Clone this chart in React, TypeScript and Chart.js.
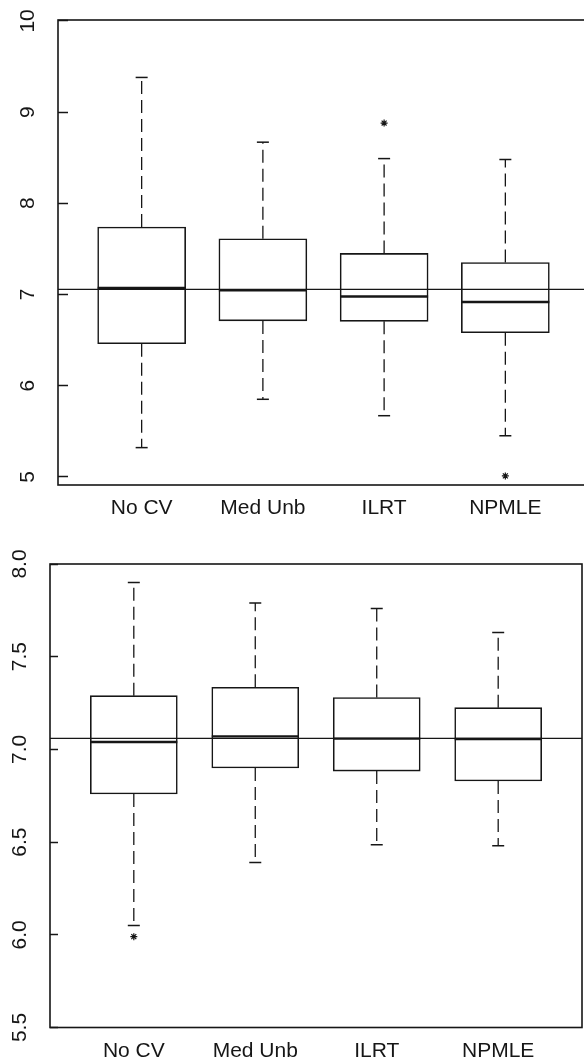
import React, { useEffect, useRef } from "react";
import { Chart, registerables } from "chart.js";

Chart.register(...registerables);

// ---------- data ----------
const categories = ["No CV", "Med Unb", "ILRT", "NPMLE"];

// upper panel
const topUpperWhisker = [9.38, 8.67, 8.49, 8.48];
const topQ3 = [7.74, 7.61, 7.45, 7.35];
const topMedian = [7.07, 7.045, 6.977, 6.917];
const topQ1 = [6.46, 6.71, 6.705, 6.58];
const topLowerWhisker = [5.32, 5.85, 5.67, 5.45];
const topOutlierCats = [3, 4];
const topOutlierValues = [8.88, 5.01];
const topReference = 7.055;
const topYTicks = [5, 6, 7, 8, 9, 10];
const topYLabels = ["5", "6", "7", "8", "9", "10"];

// lower panel
const bottomUpperWhisker = [7.9, 7.79, 7.76, 7.63];
const bottomQ3 = [7.29, 7.335, 7.28, 7.225];
const bottomMedian = [7.04, 7.07, 7.058, 7.056];
const bottomQ1 = [6.76, 6.9, 6.883, 6.83];
const bottomLowerWhisker = [6.05, 6.39, 6.486, 6.48];
const bottomOutlierCats = [1];
const bottomOutlierValues = [5.99];
const bottomReference = 7.06;
const bottomYTicks = [5.5, 6.0, 6.5, 7.0, 7.5, 8.0];
const bottomYLabels = ["5.5", "6.0", "6.5", "7.0", "7.5", "8.0"];

const INK = "#161616";
const FONT = { family: "'Liberation Sans', Arial, Helvetica, sans-serif", size: 21 };

type PanelData = {
  upper: number[];
  q3: number[];
  median: number[];
  q1: number[];
  lower: number[];
  outCats: number[];
  outValues: number[];
  reference: number;
  yTicks: number[];
  yLabels: string[];
};

type PanelLayout = {
  canvasW: number;
  canvasH: number;
  top: number;
  yAxisWidth: number;
  padTop: number;
  padRight: number;
  xAxisHeight: number;
  xMin: number;
  xMax: number;
  yMin: number;
  yMax: number;
  boxWidth: number;
  tickLen: number;
  yLabelPad: number;
  xLabelPad: number;
};

const framePlugin = {
  id: "frame",
  afterDraw(chart: any) {
    const { ctx, chartArea } = chart;
    ctx.save();
    ctx.strokeStyle = INK;
    ctx.lineWidth = 1.6;
    ctx.strokeRect(
      chartArea.left,
      chartArea.top,
      chartArea.right - chartArea.left,
      chartArea.bottom - chartArea.top
    );
    ctx.restore();
  },
};

function Panel({ data, layout }: { data: PanelData; layout: PanelLayout }) {
  const ref = useRef<HTMLCanvasElement | null>(null);

  useEffect(() => {
    if (!ref.current) return;
    const idx = categories.map((_, i) => i + 1);

    const whiskerPts: any[] = [];
    idx.forEach((x, i) => {
      whiskerPts.push({ x, y: data.q3[i] }, { x, y: data.upper[i] }, { x, y: null });
      whiskerPts.push({ x, y: data.q1[i] }, { x, y: data.lower[i] }, { x, y: null });
    });
    const capPts: any[] = [];
    idx.forEach((x, i) => {
      capPts.push({ x, y: data.upper[i] }, { x, y: data.lower[i] });
    });

    const chart = new Chart(ref.current, {
      type: "bar",
      data: {
        datasets: [
          {
            type: "line",
            data: [
              { x: layout.xMin, y: data.reference },
              { x: layout.xMax, y: data.reference },
            ],
            borderColor: INK,
            backgroundColor: INK,
            borderWidth: 1.3,
            pointRadius: 0,
            fill: false,
            order: 0,
          } as any,
          {
            type: "scatter",
            data: idx.map((x, i) => ({ x, y: data.median[i] })),
            pointStyle: "line",
            pointRadius: layout.boxWidth / 2,
            pointBorderWidth: 2.4,
            pointBorderColor: INK,
            pointBackgroundColor: INK,
            borderColor: INK,
            backgroundColor: INK,
            order: 1,
          } as any,
          {
            type: "scatter",
            data: data.outCats.map((c, i) => ({ x: c, y: data.outValues[i] })),
            pointStyle: "star",
            pointRadius: 3.5,
            pointBorderWidth: 1.2,
            pointBorderColor: INK,
            pointBackgroundColor: INK,
            borderColor: INK,
            backgroundColor: INK,
            order: 1,
          } as any,
          {
            type: "scatter",
            data: capPts,
            pointStyle: "line",
            pointRadius: 6,
            pointBorderWidth: 1.5,
            pointBorderColor: INK,
            pointBackgroundColor: INK,
            borderColor: INK,
            backgroundColor: INK,
            order: 2,
          } as any,
          {
            type: "bar",
            data: idx.map((x, i) => ({ x, y: [data.q1[i], data.q3[i]] })),
            backgroundColor: "#ffffff",
            borderColor: INK,
            borderWidth: 1.6,
            borderSkipped: false,
            barThickness: layout.boxWidth,
            order: 3,
          } as any,
          {
            type: "line",
            data: whiskerPts,
            borderColor: INK,
            backgroundColor: INK,
            borderWidth: 1.3,
            borderDash: [13, 6],
            pointRadius: 0,
            spanGaps: false,
            fill: false,
            order: 4,
          } as any,
        ],
      },
      options: {
        responsive: false,
        animation: false,
        events: [],
        layout: {
          autoPadding: false,
          padding: { top: layout.padTop, right: layout.padRight, bottom: 0, left: 0 },
        },
        plugins: {
          legend: { display: false },
          tooltip: { enabled: false },
        },
        scales: {
          x: {
            type: "linear",
            offset: false,
            min: layout.xMin,
            max: layout.xMax,
            afterBuildTicks: (s: any) => {
              s.ticks = idx.map((v) => ({ value: v }));
            },
            afterFit: (s: any) => {
              s.height = layout.xAxisHeight;
              s.paddingLeft = 0;
              s.paddingRight = 0;
            },
            border: { display: false },
            grid: { display: false, drawTicks: false, offset: false },
            ticks: {
              autoSkip: false,
              minRotation: 0,
              maxRotation: 0,
              padding: layout.xLabelPad,
              color: INK,
              font: FONT,
              callback: (_v: any, i: number) => categories[i],
            },
          } as any,
          y: {
            type: "linear",
            min: layout.yMin,
            max: layout.yMax,
            afterBuildTicks: (s: any) => {
              s.ticks = data.yTicks.map((v) => ({ value: v }));
            },
            afterFit: (s: any) => {
              s.width = layout.yAxisWidth;
              s.paddingTop = 0;
              s.paddingBottom = 0;
            },
            border: { display: false },
            grid: {
              drawOnChartArea: false,
              drawTicks: true,
              tickLength: layout.tickLen,
              tickWidth: 1.5,
              tickColor: INK,
            },
            ticks: {
              minRotation: 90,
              maxRotation: 90,
              crossAlign: "center",
              padding: layout.yLabelPad,
              color: INK,
              font: FONT,
              callback: (_v: any, i: number) => data.yLabels[i],
            },
          } as any,
        },
      },
      plugins: [framePlugin],
    });
    return () => chart.destroy();
  }, [data, layout]);

  return (
    <canvas
      ref={ref}
      width={layout.canvasW}
      height={layout.canvasH}
      style={{
        position: "absolute",
        left: 0,
        top: layout.top,
        width: layout.canvasW,
        height: layout.canvasH,
        display: "block",
      }}
    />
  );
}

const topData: PanelData = {
  upper: topUpperWhisker,
  q3: topQ3,
  median: topMedian,
  q1: topQ1,
  lower: topLowerWhisker,
  outCats: topOutlierCats,
  outValues: topOutlierValues,
  reference: topReference,
  yTicks: topYTicks,
  yLabels: topYLabels,
};

const bottomData: PanelData = {
  upper: bottomUpperWhisker,
  q3: bottomQ3,
  median: bottomMedian,
  q1: bottomQ1,
  lower: bottomLowerWhisker,
  outCats: bottomOutlierCats,
  outValues: bottomOutlierValues,
  reference: bottomReference,
  yTicks: bottomYTicks,
  yLabels: bottomYLabels,
};

const topLayout: PanelLayout = {
  canvasW: 600,
  canvasH: 530,
  top: 0,
  yAxisWidth: 58,
  padTop: 20,
  padRight: 11,
  xAxisHeight: 45,
  xMin: 0.31,
  xMax: 4.69,
  yMin: 4.91,
  yMax: 10.01,
  boxWidth: 88,
  tickLen: -10,
  yLabelPad: 27.8,
  xLabelPad: 11,
};

const bottomLayout: PanelLayout = {
  canvasW: 584,
  canvasH: 531,
  top: 530,
  yAxisWidth: 50,
  padTop: 34,
  padRight: 2,
  xAxisHeight: 33.5,
  xMin: 0.31,
  xMax: 4.69,
  yMin: 5.5,
  yMax: 8.0,
  boxWidth: 87,
  tickLen: -8,
  yLabelPad: 23,
  xLabelPad: 11,
};

export default function App() {
  return (
    <div
      style={{
        position: "absolute",
        left: 0,
        top: 0,
        width: 584,
        height: 1061,
        overflow: "hidden",
        background: "#ffffff",
      }}
    >
      <Panel data={topData} layout={topLayout} />
      <Panel data={bottomData} layout={bottomLayout} />
    </div>
  );
}
